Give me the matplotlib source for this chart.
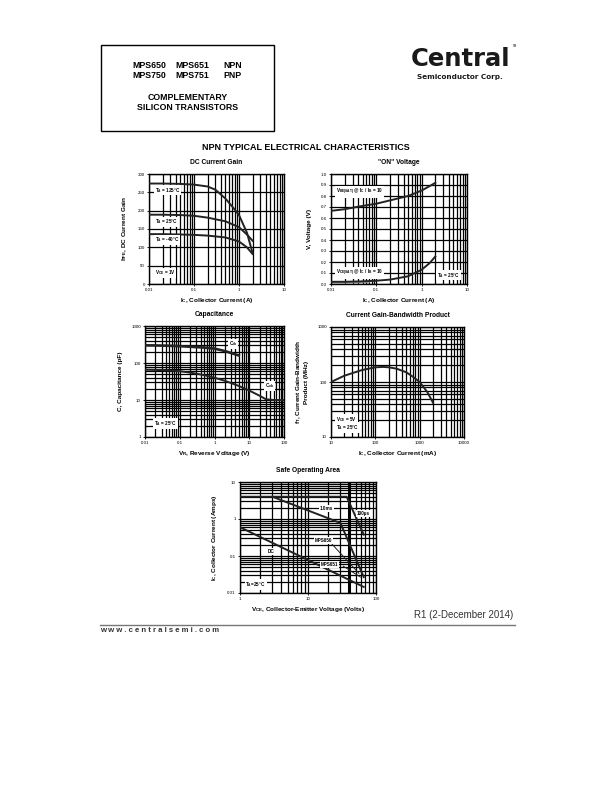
import numpy as np
import matplotlib
matplotlib.use("Agg")
import matplotlib.pyplot as plt
from matplotlib.ticker import NullFormatter, LogLocator

plt.rcParams['font.family'] = ['Liberation Sans', 'DejaVu Sans']
plt.rcParams['mathtext.default'] = 'regular'

# ---------------- data ----------------
gain_x_125 = [0.01, 0.02, 0.05, 0.1, 0.2, 0.3, 0.5, 0.7, 1.0, 1.5, 2.0]
gain_y_125 = [274, 274, 273, 271, 266, 257, 233, 212, 188, 140, 85]
gain_x_25 = [0.01, 0.02, 0.05, 0.1, 0.2, 0.5, 1.0, 1.5, 2.0]
gain_y_25 = [189, 189, 188, 186, 181, 171, 155, 135, 118]
gain_x_m40 = [0.01, 0.02, 0.05, 0.1, 0.2, 0.5, 1.0, 1.5, 2.0]
gain_y_m40 = [136, 136, 135, 134, 132, 127, 116, 100, 82]

von_x = [0.01, 0.02, 0.05, 0.1, 0.2, 0.5, 1.0, 1.5, 2.0]
vbe_sat = [0.665, 0.68, 0.71, 0.73, 0.76, 0.80, 0.85, 0.89, 0.92]
vce_sat = [0.02, 0.02, 0.024, 0.03, 0.04, 0.07, 0.13, 0.19, 0.25]

cap_x_ib = [0.01, 0.02, 0.05, 0.1, 0.2, 0.5, 1, 2, 5]
cap_ib = [300, 298, 292, 285, 275, 262, 245, 210, 160]
cap_x_ob = [0.01, 0.02, 0.05, 0.1, 0.2, 0.5, 1, 2, 5, 10, 20, 30, 50, 100]
cap_ob = [66, 65, 63, 60, 55, 47, 40, 33, 24, 18, 13, 10.5, 10, 10]

ft_x = [10, 20, 50, 100, 150, 200, 300, 500, 700, 1000, 1500, 2000]
ft_y = [100, 130, 165, 185, 188, 185, 175, 150, 125, 100, 65, 42]

soa_100us_x = [1, 37, 66]
soa_100us_y = [4, 4, 0.38]
soa_1ms_x = [3, 30, 66]
soa_1ms_y = [4, 0.78, 0.027]
soa_dc_x = [1, 66]
soa_dc_y = [0.6, 0.0146]
soa_650_x = [22, 56]
soa_650_y = [0.22, 0.034]
soa_651_x = [33, 59]
soa_651_y = [0.053, 0.027]

W, H = 612, 792
fig = plt.figure(figsize=(W / 100, H / 100), dpi=100)


def add_ax(x0, y0, x1, y1):
    return fig.add_axes([x0 / W, 1 - y1 / H, (x1 - x0) / W, (y1 - y0) / H])


def ftext(x, y, s, **kw):
    fig.text(x / W, 1 - y / H, s, **kw)


TICK_FS = 3.2
LAB_FS = 4.6
TTL_FS = 4.8
ANN_FS = 3.3
GRID_LW = 0.9
CURVE_LW = 1.4


def style(ax, title, xlabel, ylabel):
    ax.set_title(title, fontsize=TTL_FS, fontweight='bold', pad=7)
    ax.set_xlabel(xlabel, fontsize=LAB_FS, fontweight='bold', labelpad=3)
    ax.set_ylabel(ylabel, fontsize=LAB_FS, fontweight='bold', labelpad=6)
    ax.tick_params(which='major', labelsize=TICK_FS, length=1.5, width=0.6, pad=1.5)
    ax.tick_params(which='minor', length=0)
    for s in ax.spines.values():
        s.set_linewidth(1.0)
    ax.set_axisbelow(True)


def ann(ax, x, y, s, ha='left'):
    ax.text(x, y, s, fontsize=ANN_FS, fontweight='bold', ha=ha, va='center',
            bbox=dict(facecolor='white', edgecolor='none', pad=0.6), zorder=5)


# ---------------- header ----------------
fig.patches.append(plt.Rectangle((101 / W, 1 - 131 / H), 173 / W, 86 / H,
                                 transform=fig.transFigure, fill=False, lw=1.0, ec='black'))
for xx, s in [(132, 'MPS650'), (175, 'MPS651'), (223, 'NPN')]:
    ftext(xx, 65, s, fontsize=6.3, fontweight='bold', ha='left', va='center')
for xx, s in [(132, 'MPS750'), (175, 'MPS751'), (223, 'PNP')]:
    ftext(xx, 75, s, fontsize=6.3, fontweight='bold', ha='left', va='center')
ftext(188, 97, 'COMPLEMENTARY', fontsize=6.3, fontweight='bold', ha='center', va='center')
ftext(188, 108, 'SILICON TRANSISTORS', fontsize=6.3, fontweight='bold', ha='center', va='center')

ftext(460, 59, 'Central', fontsize=17.5, fontweight='heavy', ha='center', va='center',
      family='DejaVu Sans', color='#1a1a1a')
ftext(460, 77, 'Semiconductor Corp.', fontsize=5.2, fontweight='bold', ha='center', va='center',
      family='DejaVu Sans', color='#1a1a1a')
ftext(513, 46, 'TM', fontsize=2, ha='left', va='center')

ftext(306, 147, 'NPN TYPICAL ELECTRICAL CHARACTERISTICS', fontsize=6.5,
      fontweight='bold', ha='center', va='center')

# ---------------- DC current gain ----------------
ax1 = add_ax(149, 174, 284, 284)
ax1.set_xscale('log')
ax1.set_xlim(0.01, 10)
ax1.set_ylim(0, 300)
ax1.plot(gain_x_125, gain_y_125, color='#222222', lw=CURVE_LW, zorder=3)
ax1.plot(gain_x_25, gain_y_25, color='#222222', lw=CURVE_LW, zorder=3)
ax1.plot(gain_x_m40, gain_y_m40, color='#222222', lw=CURVE_LW, zorder=3)
ax1.set_yticks([0, 50, 100, 150, 200, 250, 300])
ax1.set_xticks([0.01, 0.1, 1, 10])
ax1.set_xticklabels(['0.01', '0.1', '1', '10'])
ax1.xaxis.set_minor_locator(LogLocator(base=10, subs=np.arange(2, 10)))
ax1.xaxis.set_minor_formatter(NullFormatter())
ax1.grid(True, which='both', axis='x', color='black', lw=GRID_LW)
ax1.grid(True, which='major', axis='y', color='black', lw=GRID_LW)
style(ax1, 'DC Current Gain', r'I$_{C}$, Collector Current (A)', r'h$_{FE}$, DC Current Gain')
ann(ax1, 0.0135, 256, r'T$_{A}$ = 125°C')
ann(ax1, 0.0135, 169, r'T$_{A}$ = 25°C')
ann(ax1, 0.0135, 120, r'T$_{A}$ = -40°C')
ann(ax1, 0.0135, 30, r'V$_{CE}$ = 1V')

# ---------------- ON voltage ----------------
ax2 = add_ax(331, 174, 467, 284)
ax2.set_xscale('log')
ax2.set_xlim(0.01, 10)
ax2.set_ylim(0, 1.0)
ax2.fill_between([0.01, 0.03, 0.07], [0.008, 0.01, 0.015], [0.02, 0.021, 0.025],
                 color='#999999', lw=0, zorder=2)
ax2.plot(von_x, vbe_sat, color='#222222', lw=CURVE_LW, zorder=3)
ax2.plot(von_x, vce_sat, color='#222222', lw=CURVE_LW, zorder=3)
ax2.set_yticks(np.round(np.arange(0, 1.01, 0.1), 1))
ax2.set_yticklabels(['0.0', '0.1', '0.2', '0.3', '0.4', '0.5', '0.6', '0.7', '0.8', '0.9', '1.0'])
ax2.set_xticks([0.01, 0.1, 1, 10])
ax2.set_xticklabels(['0.01', '0.1', '1', '10'])
ax2.xaxis.set_minor_locator(LogLocator(base=10, subs=np.arange(2, 10)))
ax2.xaxis.set_minor_formatter(NullFormatter())
ax2.grid(True, which='both', axis='x', color='black', lw=GRID_LW)
ax2.grid(True, which='major', axis='y', color='black', lw=GRID_LW)
style(ax2, '"ON" Voltage', r'I$_{C}$, Collector Current (A)', 'V, Voltage (V)')
ann(ax2, 0.013, 0.835, r'V$_{BE(SAT)}$ @ I$_{C}$ / I$_{B}$ = 10')
ann(ax2, 0.013, 0.1, r'V$_{CE(SAT)}$ @ I$_{C}$ / I$_{B}$ = 10')
ann(ax2, 2.2, 0.08, r'T$_{A}$ = 25°C')

# ---------------- Capacitance ----------------
ax3 = add_ax(145, 326, 284, 437)
ax3.set_xscale('log')
ax3.set_yscale('log')
ax3.set_xlim(0.01, 100)
ax3.set_ylim(1, 1000)
ax3.plot(cap_x_ib, cap_ib, color='#222222', lw=CURVE_LW + 0.5, zorder=3)
ax3.plot(cap_x_ob, cap_ob, color='#222222', lw=CURVE_LW, zorder=3)
ax3.set_xticks([0.01, 0.1, 1, 10, 100])
ax3.set_xticklabels(['0.01', '0.1', '1', '10', '100'])
ax3.set_yticks([1, 10, 100, 1000])
ax3.set_yticklabels(['1', '10', '100', '1000'])
for a in (ax3.xaxis, ax3.yaxis):
    a.set_minor_locator(LogLocator(base=10, subs=np.arange(2, 10)))
    a.set_minor_formatter(NullFormatter())
ax3.grid(True, which='both', color='black', lw=GRID_LW)
style(ax3, 'Capacitance', r'V$_{R}$, Reverse Voltage (V)', 'C, Capacitance (pF)')
ann(ax3, 2.6, 330, r'C$_{ib}$')
ann(ax3, 28, 24, r'C$_{ob}$')
ann(ax3, 0.018, 2.3, r'T$_{A}$ = 25°C')

# ---------------- fT ----------------
ax4 = add_ax(331, 327, 464, 437)
ax4.set_xscale('log')
ax4.set_yscale('log')
ax4.set_xlim(10, 10000)
ax4.set_ylim(10, 1000)
ax4.plot(ft_x, ft_y, color='#222222', lw=CURVE_LW, zorder=3)
ax4.set_xticks([10, 100, 1000, 10000])
ax4.set_xticklabels(['10', '100', '1000', '10000'])
ax4.set_yticks([10, 100, 1000])
ax4.set_yticklabels(['10', '100', '1000'])
for a in (ax4.xaxis, ax4.yaxis):
    a.set_minor_locator(LogLocator(base=10, subs=np.arange(2, 10)))
    a.set_minor_formatter(NullFormatter())
ax4.grid(True, which='both', color='black', lw=GRID_LW)
style(ax4, 'Current Gain-Bandwidth Product', r'I$_{C}$, Collector Current (mA)',
      'f$_{T}$, Current Gain-Bandwidth\nProduct (MHz)')
ann(ax4, 13, 21, r'V$_{CE}$ = 5V')
ann(ax4, 13, 15, r'T$_{A}$ = 25°C')

# ---------------- SOA ----------------
ax5 = add_ax(240, 482, 376, 593)
ax5.set_xscale('log')
ax5.set_yscale('log')
ax5.set_xlim(1, 100)
ax5.set_ylim(0.01, 10)
ax5.axvline(40, color='black', lw=2.2, zorder=2)
ax5.plot(soa_100us_x, soa_100us_y, color='#222222', lw=CURVE_LW, zorder=3)
ax5.plot(soa_1ms_x, soa_1ms_y, color='#222222', lw=CURVE_LW, zorder=3)
ax5.plot(soa_dc_x, soa_dc_y, color='#222222', lw=CURVE_LW, zorder=3)
ax5.plot(soa_650_x, soa_650_y, color='#222222', lw=0.7, zorder=3)
ax5.plot(soa_651_x, soa_651_y, color='#222222', lw=0.7, zorder=3)
ax5.set_xticks([1, 10, 100])
ax5.set_xticklabels(['1', '10', '100'])
ax5.set_yticks([0.01, 0.1, 1, 10])
ax5.set_yticklabels(['0.01', '0.1', '1', '10'])
for a in (ax5.xaxis, ax5.yaxis):
    a.set_minor_locator(LogLocator(base=10, subs=np.arange(2, 10)))
    a.set_minor_formatter(NullFormatter())
ax5.grid(True, which='both', color='black', lw=GRID_LW)
style(ax5, 'Safe Operating Area', r'V$_{CE}$, Collector-Emitter Voltage (Volts)',
      r'I$_{C}$, Collector Current (Amps)')
ann(ax5, 14.7, 1.9, '1.0ms')
ann(ax5, 52, 1.4, '100µs')
ann(ax5, 12.5, 0.26, 'MPS650')
ann(ax5, 15.5, 0.06, 'MPS651')
ann(ax5, 2.6, 0.13, 'DC')
ann(ax5, 1.2, 0.017, r'T$_{A}$=25°C')

# ---------------- footer ----------------
ftext(513, 615, 'R1 (2-December 2014)', fontsize=7, ha='right', va='center', color='#333333')
fig.add_artist(plt.Line2D([100 / W, 515 / W], [1 - 625 / H, 1 - 625 / H],
                          transform=fig.transFigure, color='#777777', lw=1.0))
ftext(100, 631, 'w w w . c e n t r a l s e m i . c o m', fontsize=5.6, fontweight='bold',
      ha='left', va='center', color='#333333')

fig.savefig('out.png', dpi=100)
